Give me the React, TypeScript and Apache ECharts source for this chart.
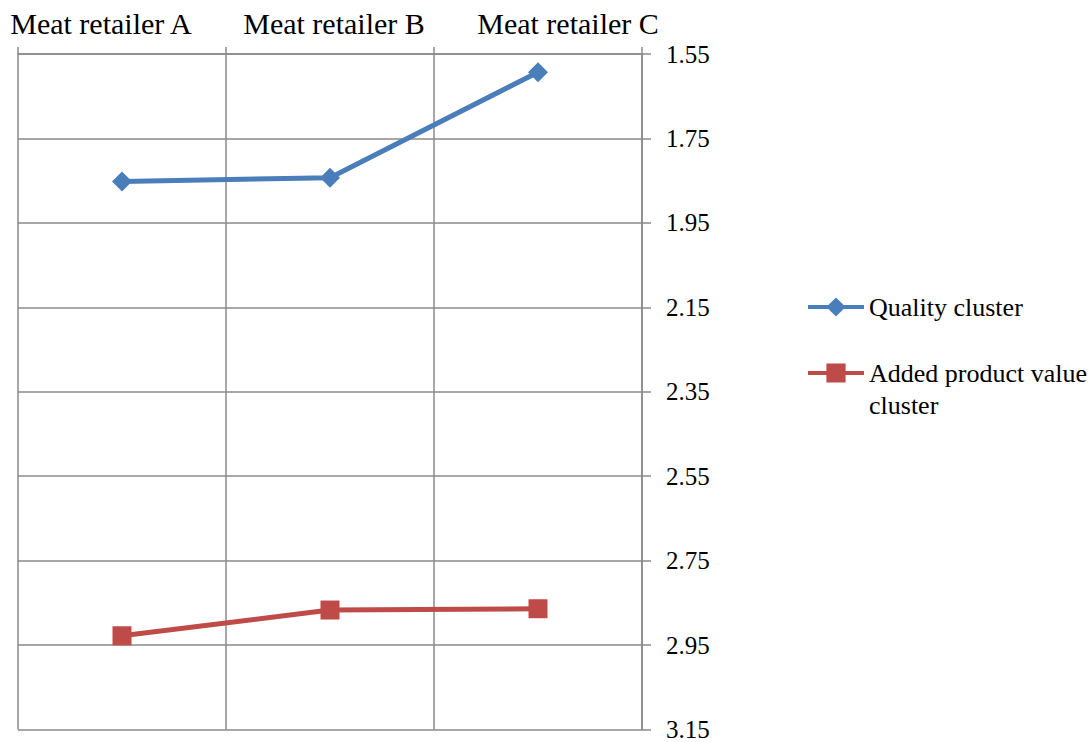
import React, { useEffect, useRef } from "react";
import * as echarts from "echarts";

const categories = ["Meat retailer A", "Meat retailer B", "Meat retailer C"];
const qualityCluster = [1.852, 1.843, 1.593];
const addedValueCluster = [2.928, 2.867, 2.864];
const seriesNames = ["Quality cluster", "Added product value cluster"];

const FONT = "'Liberation Serif', 'Times New Roman', serif";
const GRID_COLOR = "#8a8a8a";

export default function App() {
  const ref = useRef<HTMLDivElement>(null);
  useEffect(() => {
    if (!ref.current) return;
    const chart = echarts.init(ref.current, null, { renderer: "svg" });
    const catRich: any = {};
    const pads = [
      [0, 42, 0, 0],
      [0, 0, 0, 8],
      [0, 0, 0, 60],
    ];
    categories.forEach((_, i) => {
      catRich["c" + i] = {
        fontFamily: FONT,
        fontSize: 30,
        color: "#000",
        padding: pads[i],
      };
    });
    const legendBase = {
      orient: "vertical",
      left: 806,
      padding: 0,
      itemWidth: 56,
      itemHeight: 24,
      itemGap: 0,
      lineStyle: { width: 4 },
      textStyle: { fontFamily: FONT, fontSize: 26, color: "#000", lineHeight: 32 },
    };
    chart.setOption({
      animation: false,
      backgroundColor: "#fff",
      grid: { left: 18, right: 449, top: 54, bottom: 12, containLabel: false },
      legend: [
        {
          ...legendBase,
          data: [seriesNames[0]],
          top: 291,
        },
        {
          ...legendBase,
          data: [seriesNames[1]],
          top: 325,
          formatter: () => "\nAdded product value\ncluster",
        },
      ],
      xAxis: {
        type: "category",
        position: "top",
        data: categories,
        boundaryGap: true,
        axisLine: { show: true, lineStyle: { color: GRID_COLOR, width: 1.5 } },
        axisTick: { show: true, length: 7, lineStyle: { color: GRID_COLOR, width: 1.5 } },
        splitLine: { show: true, lineStyle: { color: GRID_COLOR, width: 1.5 } },
        axisLabel: {
          interval: 0,
          margin: 16,
          formatter: (v: string, i: number) => `{c${i}|${v}}`,
          rich: catRich,
        },
      },
      yAxis: {
        type: "value",
        position: "right",
        inverse: true,
        min: 1.55,
        max: 3.15,
        interval: 0.2,
        axisLine: { show: true, lineStyle: { color: GRID_COLOR, width: 1.5 } },
        axisTick: { show: true, length: 9, lineStyle: { color: GRID_COLOR, width: 1.5 } },
        splitLine: { show: true, lineStyle: { color: GRID_COLOR, width: 1.5 } },
        axisLabel: {
          margin: 24,
          fontFamily: FONT,
          fontSize: 25,
          color: "#000",
          formatter: (v: number) => v.toFixed(2),
        },
      },
      series: [
        {
          name: seriesNames[0],
          type: "line",
          data: qualityCluster,
          symbol: "diamond",
          symbolSize: 20,
          lineStyle: { color: "#4a7ebb", width: 5 },
          itemStyle: { color: "#4a7ebb" },
        },
        {
          name: seriesNames[1],
          type: "line",
          data: addedValueCluster,
          symbol: "rect",
          symbolSize: 19,
          lineStyle: { color: "#be4b48", width: 5 },
          itemStyle: { color: "#be4b48" },
        },
      ],
    });
    return () => chart.dispose();
  }, []);
  return <div ref={ref} style={{ width: 1091, height: 742, position: "absolute", left: 0, top: 0 }} />;
}
